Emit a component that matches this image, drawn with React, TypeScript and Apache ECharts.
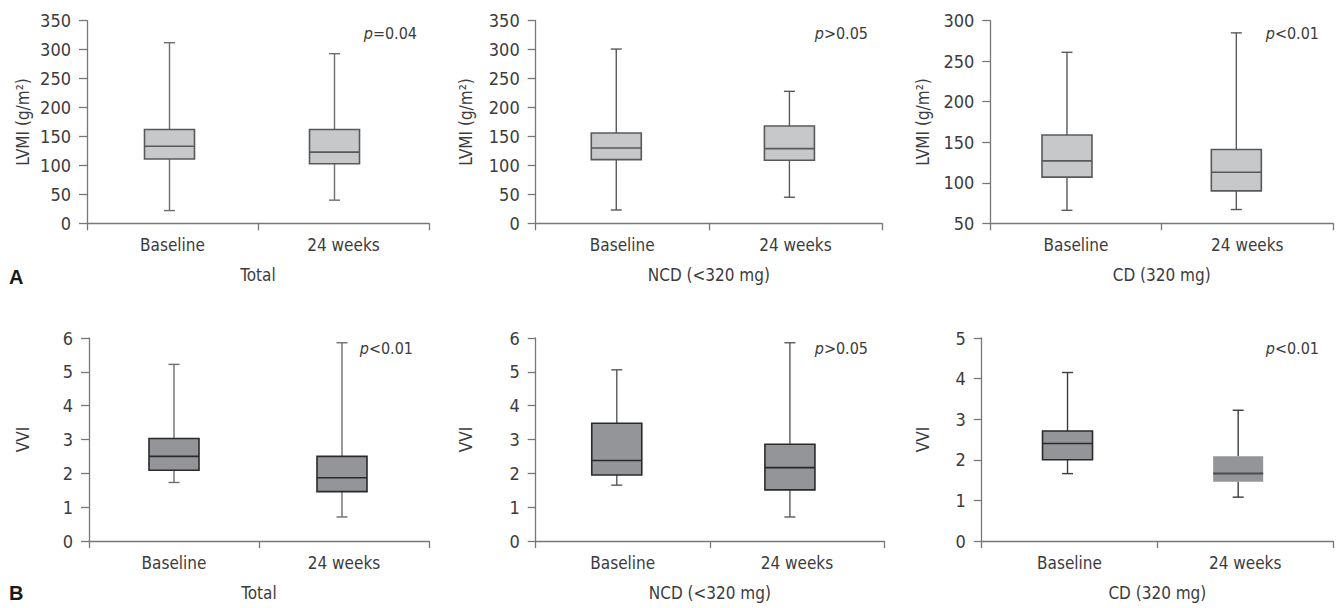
import React, { useEffect, useRef } from "react";
import * as echarts from "echarts";

// ---------- data ----------
const categories = ["Baseline", "24 weeks"];
const groupNames = ["Total", "NCD (<320 mg)", "CD (320 mg)"];

// [min, Q1, median, Q3, max]
const lvmiTotal = [[22, 111, 133, 162, 312], [40, 103, 123, 162, 293]];
const lvmiNCD = [[23, 110, 130, 156, 301], [45, 109, 129, 168, 228]];
const lvmiCD = [[66, 107, 127, 159, 261], [67, 90, 113, 141, 285]];
const vviTotal = [[1.73, 2.09, 2.5, 3.03, 5.22], [0.71, 1.46, 1.87, 2.5, 5.86]];
const vviNCD = [[1.65, 1.95, 2.38, 3.48, 5.06], [0.71, 1.51, 2.17, 2.86, 5.86]];
const vviCD = [[1.66, 2.0, 2.4, 2.71, 4.15], [1.08, 1.46, 1.66, 2.09, 3.22]];

const pTop = ["=0.04", ">0.05", "<0.01"];
const pBottom = ["<0.01", ">0.05", "<0.01"];

// y axis ranges [min, max, interval]
const lvmiRanges = [[0, 350, 50], [0, 350, 50], [50, 300, 50]];
const vviRanges = [[0, 6, 1], [0, 6, 1], [0, 5, 1]];

const lvmiName = "LVMI (g/m²)";
const vviName = "VVI";

// ---------- layout / style ----------
const FONT = "'Liberation Sans Narrow', 'DejaVu Sans Condensed', Roboto, sans-serif";
const TXT = "#3c3c3e";
const AXIS = "#77787b";

const grids = [
  { left: 87, top: 20.7, width: 342, height: 202.6 },
  { left: 535.7, top: 20.7, width: 346.3, height: 202.6 },
  { left: 990.3, top: 20.7, width: 342.7, height: 202.6 },
  { left: 89, top: 338, width: 340, height: 203 },
  { left: 535.7, top: 338, width: 348.3, height: 203 },
  { left: 981.7, top: 338, width: 351.3, height: 203 },
];
const nameGaps = [56, 61, 59, 58, 61, 50];
const boxOffsets = [[-3, -9], [-6, -6], [-9, -11], [0, -2], [-6, -7], [-2, -7]];
const pRight = [417, 868, 1319, 413, 868, 1319];

export default function App() {
  const ref = useRef<HTMLDivElement>(null);

  useEffect(() => {
    document.body.style.margin = "0";
    const chart = echarts.init(ref.current!, undefined, { renderer: "svg" });

    const panels = [
      { data: lvmiTotal, range: lvmiRanges[0], name: lvmiName, fill: "#c7c8ca", border: "#58595b", whisker: "#6d6e71", group: groupNames[0], p: pTop[0] },
      { data: lvmiNCD, range: lvmiRanges[1], name: lvmiName, fill: "#c7c8ca", border: "#58595b", whisker: "#58595b", group: groupNames[1], p: pTop[1] },
      { data: lvmiCD, range: lvmiRanges[2], name: lvmiName, fill: "#c7c8ca", border: "#58595b", whisker: "#58595b", group: groupNames[2], p: pTop[2] },
      { data: vviTotal, range: vviRanges[0], name: vviName, fill: "#939598", border: "#2b2a2b", whisker: "#6d6e71", group: groupNames[0], p: pBottom[0] },
      { data: vviNCD, range: vviRanges[1], name: vviName, fill: "#939598", border: "#2b2a2b", whisker: "#58595b", group: groupNames[1], p: pBottom[1] },
      { data: vviCD, range: vviRanges[2], name: vviName, fill: "#939598", border: "#2b2a2b", whisker: "#3c3c3e", group: groupNames[2], p: pBottom[2] },
    ];

    const xAxis: any[] = [];
    const yAxis: any[] = [];
    const series: any[] = [];
    const graphic: any[] = [];

    panels.forEach((pn, i) => {
      xAxis.push({
        type: "category",
        gridIndex: i,
        data: categories,
        boundaryGap: true,
        name: pn.group,
        nameLocation: "middle",
        nameGap: 43,
        nameTextStyle: { fontFamily: FONT, fontSize: 17, color: TXT, verticalAlign: "top" },
        axisLine: { show: true, lineStyle: { color: AXIS, width: 1.3 } },
        axisTick: { show: true, length: 7, alignWithLabel: false, lineStyle: { color: AXIS, width: 1.3 } },
        axisLabel: { fontFamily: FONT, fontSize: 17, color: TXT, margin: 13 },
        splitLine: { show: false },
      });
      yAxis.push({
        type: "value",
        gridIndex: i,
        min: pn.range[0],
        max: pn.range[1],
        interval: pn.range[2],
        name: pn.name,
        nameLocation: "middle",
        nameGap: nameGaps[i],
        nameRotate: 90,
        nameTextStyle: { fontFamily: FONT, fontSize: 17, color: TXT },
        axisLine: { show: true, lineStyle: { color: AXIS, width: 1.3 } },
        axisTick: { show: true, length: 8, lineStyle: { color: AXIS, width: 1.3 } },
        axisLabel: { fontFamily: FONT, fontSize: 18, color: TXT, margin: 16 },
        splitLine: { show: false },
      });
      const offs = boxOffsets[i];
      const noBorder = i === 5;
      series.push({
        type: "custom",
        xAxisIndex: i,
        yAxisIndex: i,
        data: pn.data.map((d, k) => [k, ...d]),
        encode: { x: 0, y: [1, 2, 3, 4, 5] },
        renderItem: (params: any, api: any) => {
          const idx = api.value(0);
          const cx = api.coord([idx, api.value(3)])[0] + offs[idx];
          const yMin = api.coord([idx, api.value(1)])[1];
          const yQ1 = api.coord([idx, api.value(2)])[1];
          const yMed = api.coord([idx, api.value(3)])[1];
          const yQ3 = api.coord([idx, api.value(4)])[1];
          const yMax = api.coord([idx, api.value(5)])[1];
          const bw = 50;
          const cap = 5.5;
          const lw = 1.4;
          const wStyle = { stroke: pn.whisker, lineWidth: lw };
          const hideBorder = noBorder && idx === 1;
          return {
            type: "group",
            children: [
              { type: "line", shape: { x1: cx, y1: yMax, x2: cx, y2: yQ3 }, style: wStyle },
              { type: "line", shape: { x1: cx, y1: yQ1, x2: cx, y2: yMin }, style: wStyle },
              { type: "line", shape: { x1: cx - cap, y1: yMax, x2: cx + cap, y2: yMax }, style: wStyle },
              { type: "line", shape: { x1: cx - cap, y1: yMin, x2: cx + cap, y2: yMin }, style: wStyle },
              {
                type: "rect",
                shape: { x: cx - bw / 2, y: yQ3, width: bw, height: yQ1 - yQ3 },
                style: { fill: pn.fill, stroke: hideBorder ? null : pn.border, lineWidth: 1.6 },
              },
              { type: "line", shape: { x1: cx - bw / 2, y1: yMed, x2: cx + bw / 2, y2: yMed }, style: { stroke: hideBorder ? "#4d4d4f" : pn.border, lineWidth: hideBorder ? 2 : 1.6 } },
            ],
          };
        },
      });
      const g = grids[i];
      graphic.push({
        type: "text",
        right: 1339 - pRight[i],
        top: g.top + (i < 3 ? 5 : 2),
        style: {
          text: "{i|p}{n|" + pn.p + "}",
          rich: {
            i: { fontFamily: FONT, fontSize: 16, fontStyle: "italic", fill: TXT },
            n: { fontFamily: FONT, fontSize: 16, fill: TXT },
          },
        },
      });
    });

    graphic.push({
      type: "text",
      left: 9,
      top: 267,
      style: { text: "A", fontFamily: "'Liberation Sans', Arial, sans-serif", fontWeight: "bold", fontSize: 20, fill: "#1a1a1a" },
    });
    graphic.push({
      type: "text",
      left: 9,
      top: 583,
      style: { text: "B", fontFamily: "'Liberation Sans', Arial, sans-serif", fontWeight: "bold", fontSize: 20, fill: "#1a1a1a" },
    });

    chart.setOption({
      animation: false,
      backgroundColor: "#ffffff",
      grid: grids.map((g) => ({ ...g, containLabel: false, outerBoundsMode: "none" })),
      xAxis,
      yAxis,
      series,
      graphic,
    });

    return () => chart.dispose();
  }, []);

  return <div ref={ref} style={{ width: 1339, height: 608 }} />;
}
